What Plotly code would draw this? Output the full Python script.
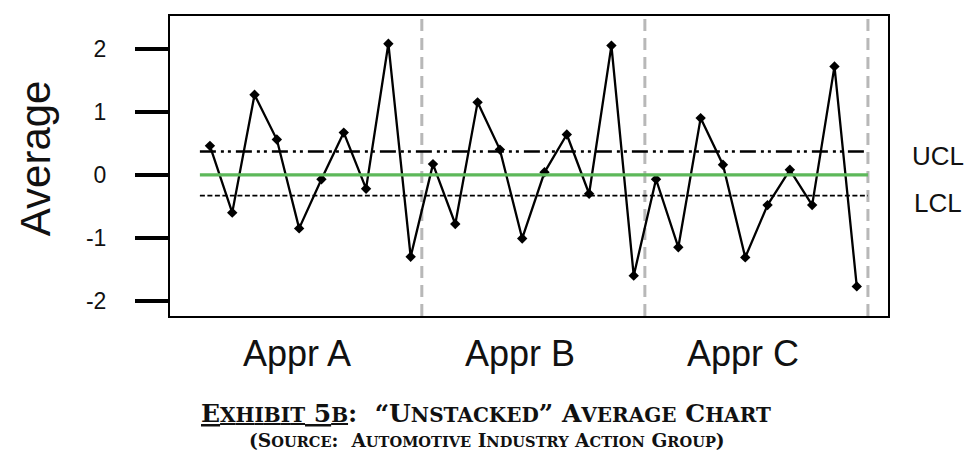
import plotly.graph_objects as go

# averages per part/trial, one list per appraiser
appraisers = ["Appr A", "Appr B", "Appr C"]
appr_a = [0.46, -0.60, 1.27, 0.56, -0.85, -0.07, 0.67, -0.22, 2.08, -1.30]
appr_b = [0.17, -0.78, 1.15, 0.40, -1.01, 0.04, 0.64, -0.30, 2.05, -1.60]
appr_c = [-0.07, -1.15, 0.90, 0.16, -1.31, -0.48, 0.08, -0.48, 1.72, -1.77]
ucl = 0.37
center = 0.0
lcl = -0.33
y_ticks = [-2, -1, 0, 1, 2]

values = appr_a + appr_b + appr_c
n_per = len(appr_a)
xs = list(range(1, len(values) + 1))

SANS = "Liberation Sans, Arial, sans-serif"
SERIF = "DejaVu Serif, serif"

fig = go.Figure()
fig.add_trace(go.Scatter(
    x=xs, y=values, mode="lines+markers",
    line=dict(color="black", width=2.3),
    marker=dict(symbol="diamond", size=8, color="black"),
    hoverinfo="skip", showlegend=False,
))

x_lo, x_hi = 0.55, len(values) + 0.5

shapes = []
# appraiser separators
for k in range(1, len(appraisers) + 1):
    xv = k * n_per + 0.5
    shapes.append(dict(type="line", xref="x", yref="paper", x0=xv, x1=xv, y0=0, y1=1,
                       line=dict(color="#b8b8b8", width=3, dash="12px,7px"), layer="below"))
# control limits and centre line
shapes.append(dict(type="line", xref="x", yref="y", x0=x_lo, x1=x_hi, y0=ucl, y1=ucl,
                   line=dict(color="black", width=2.5, dash="16px,5px,3px,4px,3px,5px")))
shapes.append(dict(type="line", xref="x", yref="y", x0=x_lo, x1=x_hi, y0=lcl, y1=lcl,
                   line=dict(color="black", width=1.6, dash="5px,2.5px")))
shapes.append(dict(type="line", xref="x", yref="y", x0=x_lo, x1=x_hi, y0=center, y1=center,
                   line=dict(color="#5db85a", width=3.2)))

annotations = []
for k, name in enumerate(appraisers):
    annotations.append(dict(
        x=k * n_per + 4.9, y=0, xref="x", yref="paper", text=name, showarrow=False,
        yanchor="middle", yshift=-37,
        font=dict(family=SANS, size=36, color="#111"),
    ))
annotations.append(dict(x=1, y=ucl, xref="paper", yref="y", text="UCL", showarrow=False,
                        xanchor="center", xshift=50, yshift=-4,
                        font=dict(family=SANS, size=26, color="#111")))
annotations.append(dict(x=1, y=lcl, xref="paper", yref="y", text="LCL", showarrow=False,
                        xanchor="center", xshift=50, yshift=-7,
                        font=dict(family=SANS, size=26, color="#111")))
# y axis title
annotations.append(dict(x=0, y=0.526, xref="paper", yref="paper", text="Average",
                        showarrow=False, textangle=-90, xanchor="center", yanchor="middle",
                        xshift=-135, borderpad=0,
                        font=dict(family=SANS, size=42, color="#111")))


def small_caps(words, small):
    out = []
    for ch in words:
        if ch.islower():
            out.append(f"<span style='font-size:{small}px'>{ch.upper()}</span>")
        else:
            out.append(ch)
    return "".join(out)


nb = "\u00a0"
cap1 = ("<u>" + small_caps("Exhibit 5b", 20) + "</u>:" + nb + " "
        + small_caps("“Unstacked” Average Chart", 20))
cap2 = small_caps("(Source:" + nb + " Automotive Industry Action Group)", 14.6)
annotations.append(dict(x=0.44, y=0, xref="paper", yref="paper", text="<b>" + cap1 + "</b>",
                        showarrow=False, yanchor="middle", yshift=-97,
                        font=dict(family=SERIF, size=25, color="#111")))
annotations.append(dict(x=0.442, y=0, xref="paper", yref="paper", text="<b>" + cap2 + "</b>",
                        showarrow=False, yanchor="middle", yshift=-124,
                        font=dict(family=SERIF, size=18.6, color="#111")))

fig.update_layout(
    # page body adds an 8px margin, so the figure is shrunk and shifted by that much
    width=967, height=455,
    margin=dict(l=162, r=87, t=6, b=147),
    paper_bgcolor="white", plot_bgcolor="white",
    shapes=shapes, annotations=annotations,
    xaxis=dict(range=[-0.79, 31.4], showticklabels=False, ticks="", showgrid=False,
               zeroline=False, showline=True, mirror=True, linecolor="black", linewidth=2),
    yaxis=dict(range=[-2.24, 2.52], tickvals=y_ticks, ticktext=[str(v) for v in y_ticks],
               ticks="outside", ticklen=33, tickwidth=4, tickcolor="black",
               showgrid=False, zeroline=False, showline=True, mirror=True,
               linecolor="black", linewidth=2, ticklabelstandoff=24,
               tickfont=dict(family=SANS, size=23, color="#111")),
)

fig.write_html("out.html")
